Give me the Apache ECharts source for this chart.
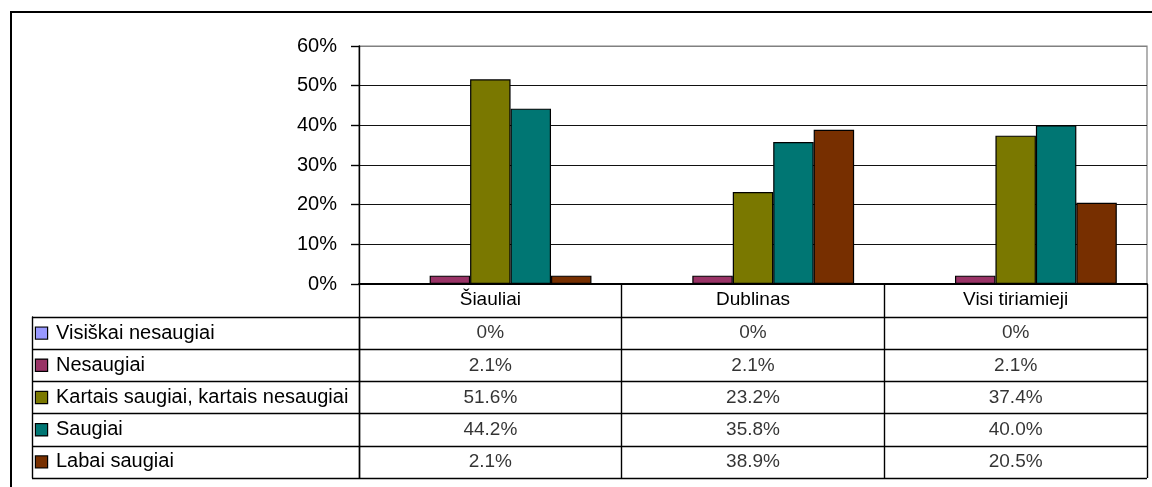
<!DOCTYPE html>
<html>
<head>
<meta charset="utf-8">
<script src="https://cdn.jsdelivr.net/npm/echarts@6/dist/echarts.min.js"></script>
<style>
html,body{margin:0;padding:0;background:#fff;}
#chart{width:1152px;height:487px;}
</style>
</head>
<body>
<div id="chart"></div>
<script>
// ---- data ----
const categories = ['Šiauliai', 'Dublinas', 'Visi tiriamieji'];
const seriesNames = ['Visiškai nesaugiai', 'Nesaugiai', 'Kartais saugiai, kartais nesaugiai', 'Saugiai', 'Labai saugiai'];
const visiskaiNesaugiai = [0, 0, 0];
const nesaugiai = [2.1, 2.1, 2.1];
const kartaisSaugiai = [51.6, 23.2, 37.4];
const saugiai = [44.2, 35.8, 40.0];
const labaiSaugiai = [2.1, 38.9, 20.5];
const yMin = 0, yMax = 60, yInterval = 10;

// ---- styles ----
const colors = ['#9999FF', '#993366', '#7A7800', '#007673', '#772F00'];
const FONT = 'Liberation Sans, Arial, sans-serif';
const FS = 19;
const FS_BIG = 20;

const seriesValues = [visiskaiNesaugiai, nesaugiai, kartaisSaugiai, saugiai, labaiSaugiai];
const fmt = v => (v === 0 ? '0%' : v.toFixed(1) + '%');

const chart = echarts.init(document.getElementById('chart'), null, { renderer: 'canvas' });

const barSeries = seriesNames.map((name, i) => ({
  name: name,
  type: 'bar',
  xAxisIndex: 0,
  yAxisIndex: 0,
  data: seriesValues[i],
  barGap: '0%',
  barCategoryGap: '23%',
  itemStyle: { color: colors[i], borderColor: '#000', borderWidth: 1.2 },
  silent: true,
  z: 3
}));

// table cell texts
const tableData = [];
seriesValues.forEach((vals, r) => {
  vals.forEach((v, c) => tableData.push([c, r, v]));
});

const rich = {
  t: { fontFamily: FONT, fontSize: FS_BIG, color: '#000', padding: [0, 0, 0, 9] }
};
colors.forEach((c, i) => {
  rich['s' + i] = { width: 11, height: 11, backgroundColor: c, borderColor: '#000', borderWidth: 1.2 };
});

const LINE = { color: '#000', width: 1.4 };

const option = {
  backgroundColor: '#fff',
  animation: false,
  textStyle: { fontFamily: FONT },
  grid: [
    { left: 359, right: 5, top: 46, bottom: 203, show: true, borderColor: '#808080', borderWidth: 1.2, backgroundColor: 'transparent' },
    { left: 359, right: 5, top: 317, bottom: 9, show: false }
  ],
  xAxis: [
    {
      type: 'category', gridIndex: 0, data: categories, boundaryGap: true,
      axisLine: { show: true, lineStyle: { color: '#000', width: 1.8 } },
      axisTick: { show: true, interval: 0, length: 194, lineStyle: LINE },
      axisLabel: { show: true, interval: 0, margin: 7, fontSize: FS, lineHeight: 18, color: '#000', fontFamily: FONT },
      splitLine: { show: false }
    },
    {
      type: 'category', gridIndex: 1, data: categories, boundaryGap: true,
      axisLine: { show: false }, axisTick: { show: false }, axisLabel: { show: false }, splitLine: { show: false }
    }
  ],
  yAxis: [
    {
      type: 'value', gridIndex: 0, min: yMin, max: yMax, interval: yInterval,
      axisLine: { show: true, lineStyle: { color: '#000', width: 1.4 } },
      axisTick: { show: true, length: 8, lineStyle: { color: '#000', width: 1.4 } },
      axisLabel: { formatter: '{value}%', fontSize: FS_BIG, color: '#000', margin: 22, fontFamily: FONT },
      splitLine: { show: true, lineStyle: { color: ['#000', '#111', '#111', '#111', '#111', '#111', '#808080'], width: 1.2 } }
    },
    {
      type: 'category', gridIndex: 1, data: seriesNames, inverse: true, boundaryGap: true,
      axisLine: { show: true, lineStyle: LINE },
      axisTick: { show: true, interval: 0, length: 327, lineStyle: LINE },
      axisLabel: {
        show: true, interval: 0, align: 'left', margin: 323,
        formatter: (val) => '{s' + seriesNames.indexOf(val) + '|}{t|' + val + '}',
        rich: rich
      },
      splitLine: { show: true, interval: 0, lineStyle: LINE }
    },
    {
      type: 'category', gridIndex: 1, data: seriesNames, inverse: true, position: 'left', offset: 327,
      axisLine: { show: true, lineStyle: LINE },
      axisTick: { show: false }, axisLabel: { show: false }, splitLine: { show: false }
    }
  ],
  series: barSeries.concat([{
    type: 'scatter',
    xAxisIndex: 1,
    yAxisIndex: 1,
    data: tableData,
    symbolSize: 1,
    itemStyle: { color: 'rgba(0,0,0,0)' },
    silent: true,
    label: {
      show: true, position: 'inside',
      formatter: p => fmt(p.value[2]),
      fontSize: FS, color: '#000', fontFamily: FONT
    }
  }]),
  graphic: [{
    type: 'rect',
    shape: { x: 11, y: 12, width: 1200, height: 600 },
    style: { fill: 'none', stroke: '#000', lineWidth: 2 },
    silent: true
  }]
};

chart.setOption(option);
</script>
</body>
</html>
